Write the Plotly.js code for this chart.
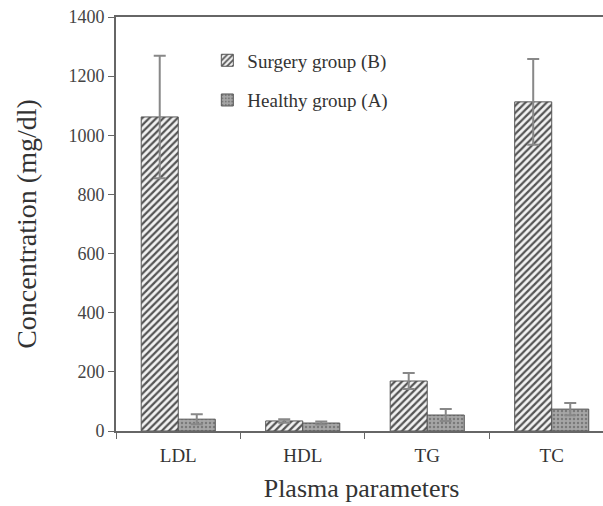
<!DOCTYPE html>
<html>
<head>
<meta charset="utf-8">
<script src="https://cdn.plot.ly/plotly-3.0.1.min.js"></script>
<style>html,body{margin:0;padding:0;background:#fff;overflow:hidden;}#chart{width:607px;height:506px;}</style>
</head>
<body>
<div id="chart"></div>
<script>
var categories = ["LDL", "HDL", "TG", "TC"];
var surgeryValues = [1062, 34, 169, 1113];
var surgeryErrors = [207, 6, 27, 145];
var healthyValues = [40, 27, 54, 74];
var healthyErrors = [17, 5, 20, 21];
var seriesNames = ["Surgery group (B)", "Healthy group (A)"];
var yTickVals = [0, 200, 400, 600, 800, 1000, 1200, 1400];

var serif = "Liberation Serif";

var traces = [
  {
    type: "bar", name: seriesNames[0], x: categories, y: surgeryValues, legendgroup: "b",
    marker: {color: "#ffffff", line: {color: "#555", width: 1},
      pattern: {shape: "/", fgcolor: "#555", bgcolor: "#f2f2f2", size: 5, solidity: 0.45}},
    error_y: {type: "data", array: surgeryErrors, visible: true, color: "#888", thickness: 2, width: 6}
  },
  {
    type: "bar", name: seriesNames[1], x: categories, y: healthyValues, legendgroup: "a",
    marker: {color: "#9a9a9a", line: {color: "#555", width: 1},
      pattern: {shape: ".", fgcolor: "#7a7a7a", bgcolor: "#a6a6a6", size: 4, solidity: 0.3}},
    error_y: {type: "data", array: healthyErrors, visible: true, color: "#888", thickness: 2, width: 6}
  }
];

var layout = {
  width: 607, height: 506,
  margin: {l: 116, r: 0, t: 17, b: 75, pad: 0},
  paper_bgcolor: "#fff", plot_bgcolor: "#fff",
  barmode: "group", bargap: 0.405, bargroupgap: 0,
  showlegend: true,
  legend: {x: 0.186, y: 0.941, xanchor: "left", yanchor: "top", bgcolor: "rgba(0,0,0,0)",
    font: {family: serif, size: 19, color: "#333"}, tracegroupgap: 12, itemwidth: 30},
  font: {family: serif, color: "#333"},
  xaxis: {
    type: "category", range: [-0.5, 3.444], tickson: "boundaries",
    showline: true, linecolor: "#666", linewidth: 2, mirror: true,
    ticks: "outside", ticklen: 6, tickcolor: "#666", ticklabelstandoff: 6,
    tickfont: {family: serif, size: 19, color: "#333"},
    showgrid: false, zeroline: false,
    title: {text: "Plasma parameters", font: {family: serif, size: 26, color: "#333"}, standoff: 14}
  },
  yaxis: {
    range: [0, 1400], tickvals: yTickVals,
    showline: true, linecolor: "#666", linewidth: 2,
    ticks: "outside", ticklen: 6, tickcolor: "#666",
    tickfont: {family: serif, size: 18, color: "#444"},
    showgrid: false, zeroline: false,
    title: {text: "Concentration (mg/dl)", font: {family: serif, size: 28, color: "#333"}, standoff: 24}
  }
};

Plotly.newPlot("chart", traces, layout, {displayModeBar: false, staticPlot: true});
</script>
</body>
</html>
